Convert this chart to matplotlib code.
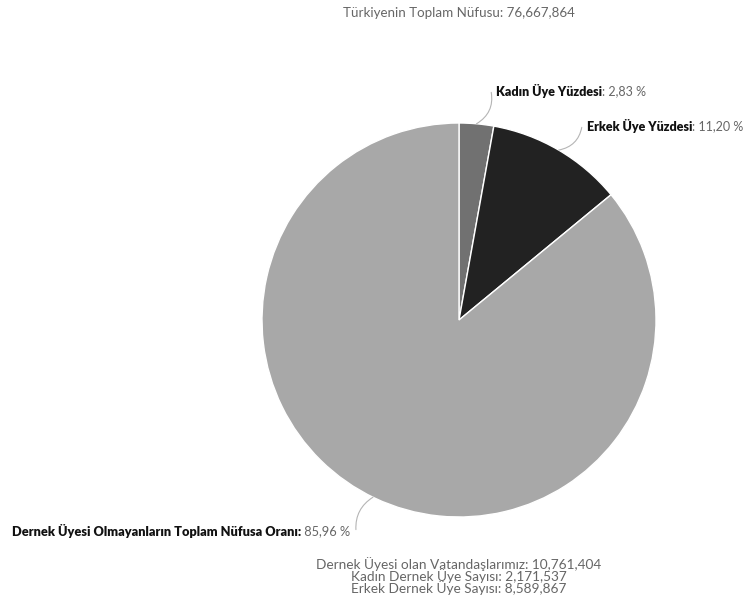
import matplotlib.pyplot as plt
import numpy as np

plt.rcParams['font.family'] = ['Lato', 'DejaVu Sans']

# data
labels = ["Kadın Üye Yüzdesi", "Erkek Üye Yüzdesi", "Dernek Üyesi Olmayanların Toplam Nüfusa Oranı"]
values = [2.83, 11.20, 85.96]
value_text = ["2,83 %", "11,20 %", "85,96 %"]
colors = ["#717171", "#222222", "#a8a8a8"]

title = "Türkiyenin Toplam Nüfusu: 76,667,864"
bottom_lines = ["Dernek Üyesi olan Vatandaşlarımız: 10,761,404",
                "Kadın Dernek Üye Sayısı: 2,171,537",
                "Erkek Dernek Üye Sayısı: 8,589,867"]

W, H = 747, 612
fig = plt.figure(figsize=(W / 100, H / 100), dpi=100)
ax = fig.add_axes([0, 0, 1, 1])

cx, cy, r = 459, H - 320, 197
wedges, _ = ax.pie(values, colors=colors, startangle=90, counterclock=False,
                   center=(cx, cy), radius=r, frame=True,
                   wedgeprops=dict(edgecolor='white', linewidth=1))
ax.set_xlim(0, W)
ax.set_ylim(0, H)
ax.set_aspect('equal')
ax.axis('off')

# connector start angles (deg) and label points
anchors = [84.9, 59.6, -115.9]
label_pts = [(491, H - 91), (582, H - 126), (356, H - 531)]
rads = [-0.35, -0.35, -0.3]

for i in range(3):
    a = np.deg2rad(anchors[i])
    p = (cx + r * np.cos(a), cy + r * np.sin(a))
    lx, ly = label_pts[i]
    ax.annotate('', xy=p, xytext=(lx, ly),
                arrowprops=dict(arrowstyle='-', color='#b5b5b5', lw=0.8,
                                connectionstyle='arc3,rad=%s' % rads[i],
                                shrinkA=1, shrinkB=0))
    if i < 2:
        t = ax.text(lx + 5, ly, labels[i], fontsize=9, fontweight='heavy',
                    color='#111111', ha='left', va='center')
        ax.annotate(": " + value_text[i], xy=(1, 0.5), xycoords=t, fontsize=9,
                    color='#666666', ha='left', va='center')
    else:
        t = ax.text(lx - 6, ly, " " + value_text[i], fontsize=9.2,
                    color='#666666', ha='right', va='center')
        ax.annotate(labels[i] + ":", xy=(0, 0.5), xycoords=t, fontsize=9.2,
                    fontweight='heavy', color='#111111', ha='right', va='center')

ax.text(cx, H - 13, title, fontsize=9.6, color='#666666',
        ha='center', va='center')
ax.text(cx, H - 576, "\n".join(bottom_lines), fontsize=9.8, color='#666666',
        ha='center', va='center', multialignment='center', linespacing=0.8)

fig.savefig('out.png', dpi=100)
